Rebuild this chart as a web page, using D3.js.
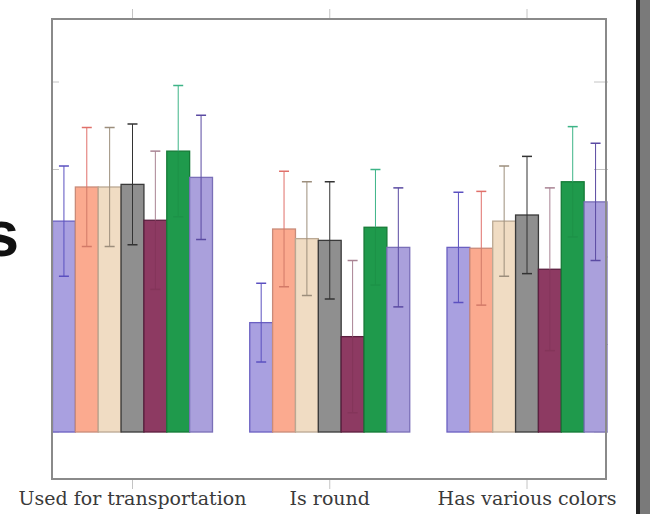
<!DOCTYPE html>
<html>
<head>
<meta charset="utf-8">
<script src="https://cdn.jsdelivr.net/npm/d3@7"></script>
<style>
  html, body { margin: 0; padding: 0; background: #fff; }
  svg { display: block; }
</style>
</head>
<body>
<div id="chart"></div>
<script>
// categories and series
const categories = ['Used for transportation', 'Is round', 'Has various colors'];
const seriesNames = ['s1', 's2', 's3', 's4', 's5', 's6', 's7'];

// means per series (one value per category)
const means = [
  [2.41, 1.25, 2.11],
  [2.80, 2.32, 2.10],
  [2.80, 2.21, 2.41],
  [2.83, 2.19, 2.48],
  [2.42, 1.09, 1.86],
  [3.21, 2.34, 2.86],
  [2.91, 2.11, 2.63]
];
// error (+/-) per series
const errors = [
  [0.63, 0.45, 0.63],
  [0.68, 0.66, 0.65],
  [0.68, 0.65, 0.63],
  [0.69, 0.67, 0.67],
  [0.79, 0.87, 0.93],
  [0.75, 0.66, 0.63],
  [0.71, 0.68, 0.67]
];
const yTicks = [0, 1, 2, 3, 4];

const fillColors = ['#a9a0e0', '#fbaa8f', '#f0dcc3', '#8f8f8f', '#8d3a62', '#1f9a4c', '#aaa0dc'];
const strokeColors = ['#6b60c2', '#c98b79', '#baa893', '#3a3a3a', '#5c1f3f', '#157a37', '#7a6fb8'];
const errColors = ['#5b50c0', '#e0706a', '#9c8e7c', '#333333', '#a98393', '#3db487', '#5a4aa2'];
// lower half of the whisker sits inside the bar (dark bars hide it)
const errInnerColors = ['#5b50c0', '#d27a68', '#9c8e7c', '#333333', '#84355a', '#1d9248', '#5a4aa2'];

const width = 650, height = 514;
const frame = {left: 52, right: 606, top: 19, bottom: 479};

let svg = d3.select('#chart').append('svg')
  .attr('width', width)
  .attr('height', height);

/*比例尺*/
let y = d3.scaleLinear()
  .domain([-0.537, 4.72])
  .range([frame.bottom, frame.top]);

let x0 = d3.scalePoint()
  .domain(categories)
  .range([132.5, 527]);

let x1 = d3.scaleBand()
  .domain(seriesNames)
  .range([-80, 80])
  .padding(0);

// cropped slide title letter on the left
svg.append('text')
  .attr('x', 19)
  .attr('y', 256)
  .attr('text-anchor', 'end')
  .attr('font-family', 'Liberation Sans, Arial, sans-serif')
  .attr('font-weight', 'bold')
  .attr('font-size', 64)
  .attr('fill', '#111')
  .text('s');

// gray slide edge on the right
svg.append('rect')
  .attr('x', 636).attr('y', 0)
  .attr('width', 4).attr('height', height)
  .attr('fill', '#222');
svg.append('rect')
  .attr('x', 640).attr('y', 0)
  .attr('width', 10).attr('height', height)
  .attr('fill', '#7a7a7a');

/*刻度*/
let tickG = svg.append('g').attr('stroke', '#c4c4c4').attr('stroke-width', 1);
tickG.selectAll('.yl')
  .data(yTicks)
  .enter()
  .append('line')
  .attr('x1', frame.left).attr('x2', frame.left + 7)
  .attr('y1', d => y(d)).attr('y2', d => y(d));
tickG.selectAll('.yr')
  .data(yTicks)
  .enter()
  .append('line')
  .attr('x1', frame.right - 12).attr('x2', frame.right + 2)
  .attr('y1', d => y(d)).attr('y2', d => y(d));
tickG.selectAll('.xt')
  .data(categories)
  .enter()
  .append('line')
  .attr('x1', d => x0(d)).attr('x2', d => x0(d))
  .attr('y1', frame.top - 10).attr('y2', frame.top);
tickG.selectAll('.xb')
  .data(categories)
  .enter()
  .append('line')
  .attr('x1', d => x0(d)).attr('x2', d => x0(d))
  .attr('y1', frame.bottom).attr('y2', frame.bottom + 10);

/*柱子*/
let flat = [];
seriesNames.forEach((s, si) => {
  categories.forEach((c, ci) => {
    flat.push({series: s, si: si, cat: c, value: means[si][ci], err: errors[si][ci]});
  });
});

let bars = svg.append('g');
bars.selectAll('rect')
  .data(flat)
  .enter()
  .append('rect')
  .attr('x', d => x0(d.cat) + x1(d.series))
  .attr('y', d => y(d.value))
  .attr('width', x1.bandwidth())
  .attr('height', d => y(0) - y(d.value))
  .attr('fill', d => fillColors[d.si])
  .attr('stroke', d => strokeColors[d.si])
  .attr('stroke-width', 1.3);

/*误差线*/
let errG = svg.append('g');
let eb = errG.selectAll('g')
  .data(flat)
  .enter()
  .append('g');
let cx = d => x0(d.cat) + x1(d.series) + x1.bandwidth() / 2;
// upper half
eb.append('line')
  .attr('x1', cx).attr('x2', cx)
  .attr('y1', d => y(d.value + d.err))
  .attr('y2', d => y(d.value))
  .attr('stroke', d => errColors[d.si])
  .attr('stroke-width', 1);
// lower half
eb.append('line')
  .attr('x1', cx).attr('x2', cx)
  .attr('y1', d => y(d.value))
  .attr('y2', d => y(d.value - d.err))
  .attr('stroke', d => errInnerColors[d.si])
  .attr('stroke-width', 1);
eb.append('line')
  .attr('x1', d => cx(d) - 5).attr('x2', d => cx(d) + 5)
  .attr('y1', d => y(d.value + d.err)).attr('y2', d => y(d.value + d.err))
  .attr('stroke', d => errColors[d.si])
  .attr('stroke-width', 1.5);
eb.append('line')
  .attr('x1', d => cx(d) - 5).attr('x2', d => cx(d) + 5)
  .attr('y1', d => y(d.value - d.err)).attr('y2', d => y(d.value - d.err))
  .attr('stroke', d => errInnerColors[d.si])
  .attr('stroke-width', 1.5);

// frame
svg.append('rect')
  .attr('x', frame.left).attr('y', frame.top)
  .attr('width', frame.right - frame.left)
  .attr('height', frame.bottom - frame.top)
  .attr('fill', 'none')
  .attr('stroke', '#8a8a8a')
  .attr('stroke-width', 2);

/*类别标签*/
svg.selectAll('.xlabel')
  .data(categories)
  .enter()
  .append('text')
  .attr('class', 'xlabel')
  .attr('x', d => x0(d))
  .attr('y', 505)
  .attr('text-anchor', 'middle')
  .attr('font-family', 'DejaVu Serif, serif')
  .attr('font-size', 19)
  .attr('fill', '#3a3a3a')
  .text(d => d);
</script>
</body>
</html>
